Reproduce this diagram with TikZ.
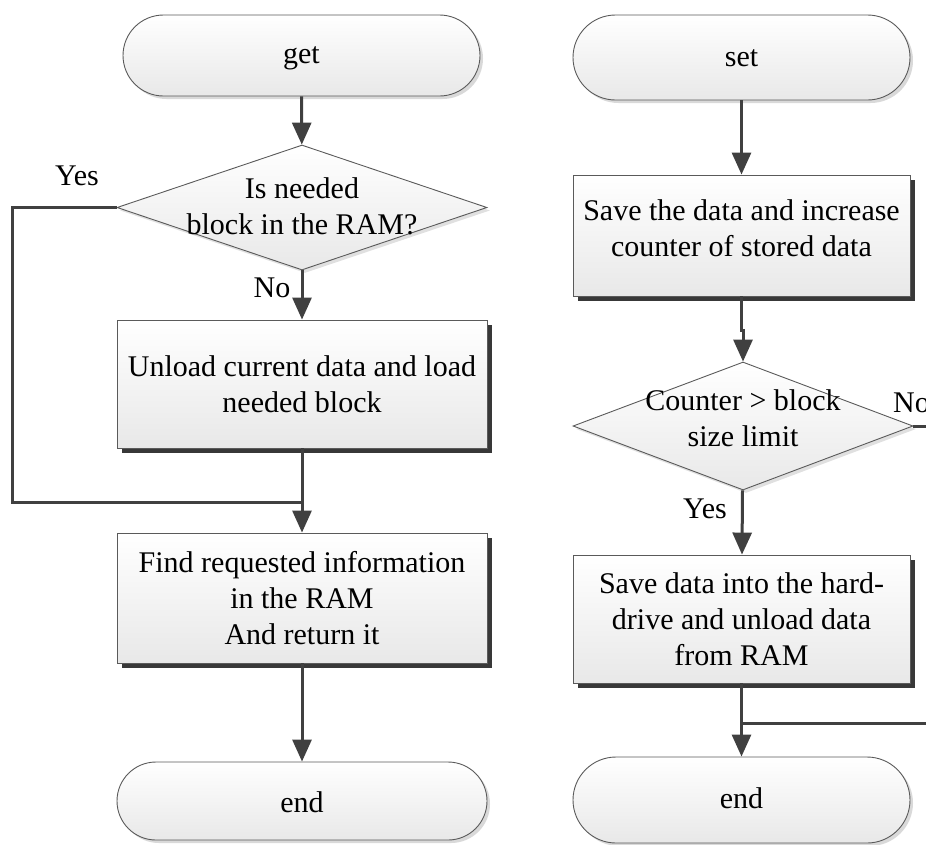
\documentclass[tikz,border=0pt]{standalone}
\usepackage{fontspec}
\setmainfont{Liberation Serif}
\usetikzlibrary{arrows.meta,shapes.geometric,shapes.misc,shadows}
\definecolor{conncol}{HTML}{404040}
\definecolor{outl}{HTML}{5A5A5A}
\tikzset{
  base/.style={draw=outl, line width=0.9pt, top color=white, bottom color=black!9, inner sep=0pt,
    align=center, font=\fontsize{30}{36}\selectfont},
  procbox/.style={base, rectangle, drop shadow={shadow xshift=5pt, shadow yshift=-5pt, fill=black!78, opacity=1}},
  term/.style={base, rounded rectangle, drop shadow={shadow xshift=3pt, shadow yshift=-3pt, fill=black!15, opacity=1}},
  decis/.style={base, diamond, drop shadow={shadow xshift=3pt, shadow yshift=-3pt, fill=black!12, opacity=1}},
  txt/.style={align=center, font=\fontsize{30}{36}\selectfont, inner sep=0pt},
  lbl/.style={font=\fontsize{30}{36}\selectfont, inner sep=0pt},
  link/.style={draw=conncol, line width=3pt},
  arr/.style={link, -{Triangle[width=19pt,length=22pt]}},
}
\begin{document}
\begin{tikzpicture}[x=1pt,y=-1pt]
\useasboundingbox (0,0) rectangle (926,844);
% ---- left column: get
\node[term, minimum width=357pt, minimum height=81pt] (get) at (301.5,55.5) {};
\node[lbl, anchor=base] (gett) at (301.5,63) {get};
\node[decis, minimum width=370pt, minimum height=125pt] (d1) at (302,207.5) {};
\node[txt] (d1t) at (302,206) {Is needed\\block in the RAM?};
\node[procbox, minimum width=370pt, minimum height=128pt] (unl) at (302,384) {Unload current data and load\\needed block};
\node[procbox, minimum width=370pt, minimum height=130pt] (find) at (302,598) {Find requested information\\in the RAM\\And return it};
\node[term, minimum width=370pt, minimum height=78pt] (end1) at (302,801) {};
\node[lbl, anchor=base] (end1t) at (302,812) {end};
\coordinate (yl) at (12,207.5);
\coordinate (m1) at (302,502);
\node[lbl, anchor=base] (yes1) at (77,185) {Yes};
\node[lbl, anchor=base] (no1) at (272,297) {No};
\draw[arr] (get) -- (d1);
\draw[arr] (d1) -- (unl);
\draw[link] (d1.west) -- (yl) |- (m1);
\draw[arr] (unl) -- (find);
\draw[arr] (find) -- (end1);
% ---- right column: set
\node[term, minimum width=337pt, minimum height=85pt] (set) at (741.5,57.5) {};
\node[lbl, anchor=base] (sett) at (741.5,66) {set};
\node[procbox, minimum width=337pt, minimum height=121pt] (save) at (741.5,235.5) {};
\node[txt] (savet) at (741.5,228) {Save the data and increase\\counter of stored data};
\node[decis, minimum width=340pt, minimum height=128pt] (d2) at (743,426) {};
\node[txt] (d2t) at (743,418) {Counter > block\\size limit};
\node[procbox, minimum width=337pt, minimum height=128pt] (save2) at (741.5,619) {Save data into the hard-\\drive and unload data\\from RAM};
\node[term, minimum width=337pt, minimum height=86pt] (end2) at (741.5,800) {};
\node[lbl, anchor=base] (end2t) at (741.5,808) {end};
\coordinate (nr) at (960,426);
\coordinate (m2) at (741.5,723);
\coordinate (jog) at (741.5,330);
\node[lbl, anchor=base west] (no2) at (893,412) {No};
\node[lbl, anchor=base] (yes2) at (705,518) {Yes};
\draw[arr] (set) -- (save);
\draw[arr] (save.south) -- (jog) -- ++(1.5,0) -- (d2.north);
\draw[arr] (d2) -- (save2);
\draw[link] (d2.east) -- (nr) |- (m2);
\draw[arr] (save2.south) -- (end2);
\end{tikzpicture}
\end{document}
